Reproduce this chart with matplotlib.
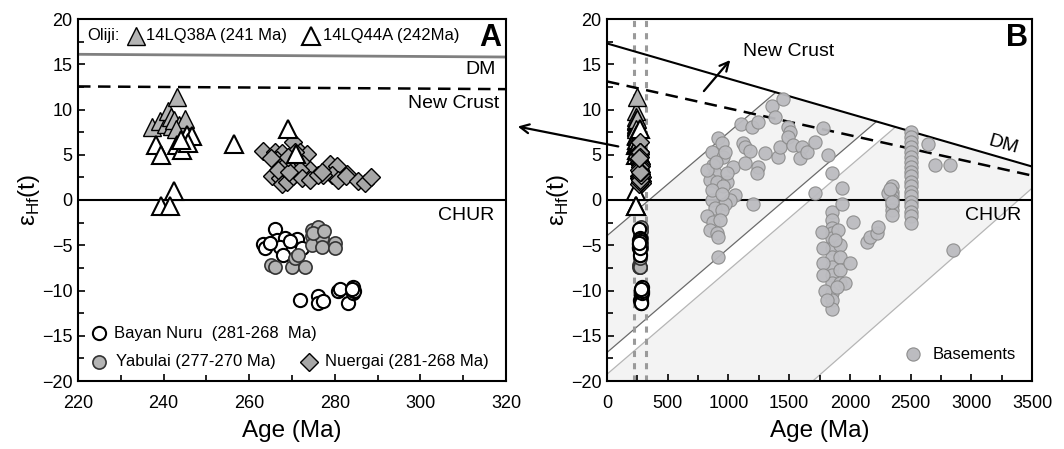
import matplotlib
matplotlib.use("Agg")
import matplotlib.pyplot as plt
import numpy as np
from matplotlib.ticker import MultipleLocator

plt.rcParams['font.family'] = ['Liberation Sans', 'DejaVu Sans']
plt.rcParams['mathtext.fontset'] = 'custom'
plt.rcParams['mathtext.rm'] = 'Liberation Sans'

# ---------------- Data (Panel A samples) ----------------
tri_gray_age = [237.3, 239.2, 240.5, 241.1, 241.8, 242.0, 242.5, 243.2, 243.5, 244.2, 245.0, 242.8]
tri_gray_ehf = [8.1, 8.7, 8.4, 9.8, 9.2, 8.2, 8.8, 11.4, 8.3, 8.1, 8.9, 7.9]

tri_white_age = [238.2, 239.4, 242.5, 239.4, 241.6, 243.1, 244.4, 245.4, 246.6, 245.8, 244.0, 256.4, 269.1, 270.9]
tri_white_ehf = [6.1, 5.0, 0.95, -0.7, -0.7, 6.1, 5.5, 7.2, 7.1, 6.3, 6.6, 6.2, 7.9, 5.1]

dia_age = [263.3, 266.0, 267.6, 270.3, 271.9, 273.4, 266.4, 268.4, 270.3, 272.6, 274.2,
           278.9, 280.4, 282.8, 279.3, 277.3, 280.8, 282.5, 285.5, 287.1, 288.4, 265.3,
           267.2, 267.6, 268.8, 270.3, 271.9, 272.3, 274.2, 276.1, 276.9, 268.0, 266.8,
           269.4, 270.7, 269.0, 265.0]
dia_ehf = [5.4, 5.3, 5.2, 6.4, 5.3, 5.1, 4.4, 4.2, 3.9, 4.0, 3.3,
           4.0, 3.8, 2.9, 2.8, 2.8, 2.2, 2.6, 2.1, 1.9, 2.5, 2.6,
           2.4, 1.8, 2.0, 2.6, 3.3, 2.4, 2.2, 2.8, 3.1, 3.7, 3.3,
           3.1, 5.3, 4.8, 4.6]

bn_age = [266.0, 263.3, 263.6, 266.4, 268.4, 267.2, 268.0, 271.1, 272.3, 269.5, 264.9,
          271.9, 276.1, 276.1, 277.3, 280.8, 281.2, 283.1, 284.3, 284.3, 284.6, 284.0]
bn_ehf = [-3.2, -4.9, -5.3, -4.4, -4.2, -5.2, -6.1, -4.3, -5.3, -4.5, -4.7,
          -11.05, -10.6, -11.4, -11.2, -10.1, -9.8, -11.35, -9.6, -10.3, -10.0, -9.8]

yb_age = [265.2, 266.0, 269.9, 273.0, 270.7, 271.3, 274.6, 276.1, 274.6, 274.6, 276.9,
          276.9, 280.0, 280.0, 275.0, 277.5]
yb_ehf = [-7.2, -7.4, -7.4, -7.4, -6.45, -6.1, -3.3, -2.95, -4.0, -5.0, -4.2,
          -5.2, -4.7, -5.3, -3.6, -3.4]

# ---------------- Data (Panel B basements) ----------------
base_age = [862, 917, 944, 958, 870, 889, 848, 903, 985, 958, 1040, 1054, 1013, 972, 862,
            889, 944, 821, 876, 930, 848, 903, 917, 917, 862, 944, 972, 985, 821, 900,
            1101, 1191, 1246, 1123, 1134, 1178, 1134, 1301, 1246, 1233, 1205, 1356, 1383,
            1452, 1411, 1424, 1493, 1507, 1493, 1534, 1603, 1590, 1644, 1713, 1713, 1781,
            1817, 1850, 1932,
            1850, 1850, 1850, 1850, 1850, 1850, 1850, 1850, 1850, 1850, 1850, 1850, 1850,
            1768, 1781, 1781, 1781, 1795, 1809, 1905, 1919, 1919, 1919, 1919, 1960, 1932,
            2001, 1891, 1878,
            2029, 2138, 2166, 2220, 2234,
            2344, 2344, 2344, 2344, 2344, 2344, 2344, 2316, 2330, 2350,
            2505, 2505, 2505, 2505, 2505, 2505, 2505, 2505, 2505, 2505, 2505, 2505, 2505,
            2505, 2505, 2505, 2505, 2505, 2505,
            2646, 2701, 2825, 2847]
base_ehf = [5.3, 6.8, 6.3, 4.8, 3.9, 2.95, 2.2, 2.0, 2.0, 1.5, 3.7, 0.55, 0.0, -0.4, 0.0,
            -0.9, -1.1, -1.8, -2.4, -2.2, -3.3, -3.7, -4.1, -6.3, 1.1, 0.7, 5.3, 2.95, 3.3, 4.2,
            8.4, 8.1, 8.65, 6.3, 5.9, 5.45, 4.05, 5.2, 3.7, 2.95, -0.4, 10.4, 9.2,
            11.2, 4.8, 5.9, 8.1, 7.55, 7.0, 6.1, 5.9, 4.6, 5.3, 6.4, 0.74, 8.0,
            4.97, 2.95, 1.3,
            -1.3, -2.2, -3.1, -3.7, -4.2, -5.3, -6.3, -7.4, -8.3, -9.2, -10.3, -11.05, -12.0,
            -3.5, -5.3, -7.0, -8.3, -10.1, -11.05, -3.3, -4.97, -6.26, -7.7, -9.2, -9.2, -0.4,
            -7.0, -9.6, -4.4,
            -2.4, -4.6, -4.05, -3.7, -2.95,
            1.5, 0.9, 0.4, 0.0, -0.55, -1.1, -1.7, 0.74, 1.2, -0.2,
            7.5, 7.0, 6.4, 5.9, 5.3, 4.8, 4.2, 3.7, 3.1, 2.6, 2.0, 1.5, 0.9, 0.4, -0.2,
            -0.7, -1.3, -1.8, -2.5,
            6.2, 3.87, 3.87, -5.5]

# Reference evolution lines (endpoints)
dm_x = [0, 3500]
dm_y = [17.3, 3.7]
nc_x = [0, 3500]
nc_y = [13.1, 2.7]
dmA_x = [220, 320]
dmA_y = [16.1, 15.8]
ncA_x = [220, 320]
ncA_y = [12.55, 12.25]
l1_int, l1_slope = -3.95, 0.0114
l2_int, l2_slope = -16.85, 0.0115
l3_int, l3_slope = -19.25, 0.0115
l4_int, l4_slope = -40.0, 0.0118

W, H = 1064, 449
fig = plt.figure(figsize=(W / 100, H / 100), dpi=100)
axA = fig.add_axes([78 / W, 1 - 381 / H, (506 - 78) / W, (381 - 19) / H])
axB = fig.add_axes([607 / W, 1 - 381 / H, (1032 - 607) / W, (381 - 19) / H])

gray_face = '#b4b4b4'
circ_ms = 9.5
tri_ms = 13.0
dia_ms = 9.0
base_ms = 9.5
lab_fs = 17.5
tick_fs = 13
txt_fs = 14
leg_fs = 12


def style_axis(ax, xlim, xmaj, xmin):
    ax.set_xlim(*xlim)
    ax.set_ylim(-20, 20)
    ax.xaxis.set_major_locator(MultipleLocator(xmaj))
    ax.xaxis.set_minor_locator(MultipleLocator(xmin))
    ax.yaxis.set_major_locator(MultipleLocator(5))
    ax.yaxis.set_minor_locator(MultipleLocator(2.5))
    ax.tick_params(which='both', direction='in', top=False, right=False, labelsize=tick_fs, width=1.2)
    ax.tick_params(which='major', length=5)
    ax.tick_params(which='minor', length=4)
    ax.tick_params(axis='x', pad=10)
    ax.tick_params(axis='y', pad=4)
    for s in ax.spines.values():
        s.set_linewidth(1.5)
    ax.set_xlabel('Age (Ma)', fontsize=lab_fs, labelpad=6)
    ax.set_ylabel(r'ε$_{\mathrm{Hf}}$(t)', fontsize=lab_fs, labelpad=0)


# ---------------- Panel A ----------------
style_axis(axA, (220, 320), 20, 10)
axA.plot(dmA_x, dmA_y, color='#808080', lw=2.0, zorder=2)
axA.plot(ncA_x, ncA_y, color='black', lw=1.8, ls=(0, (5, 3)), zorder=2)
axA.axhline(0, color='black', lw=1.5, zorder=2)

axA.plot(bn_age, bn_ehf, 'o', ms=circ_ms, mfc='white', mec='black', mew=1.5, ls='none', zorder=3)
axA.plot(yb_age, yb_ehf, 'o', ms=circ_ms, mfc=gray_face, mec='#333333', mew=1.2, ls='none', zorder=3)
axA.plot(dia_age, dia_ehf, 'D', ms=dia_ms, mfc='#a6a6a6', mec='black', mew=1.0, ls='none', zorder=3)
axA.plot(tri_gray_age, tri_gray_ehf, '^', ms=tri_ms, mfc=gray_face, mec='black', mew=1.0, ls='none', zorder=4)
axA.plot(tri_white_age, tri_white_ehf, '^', ms=tri_ms, mfc='white', mec='black', mew=1.5, ls='none', zorder=4)

axA.text(318.8, 17.9, 'A', fontsize=22, fontweight='bold', ha='right', va='center')
axA.text(317.7, 14.4, 'DM', fontsize=txt_fs, ha='right', va='center')
axA.text(318.4, 10.7, 'New Crust', fontsize=txt_fs, ha='right', va='center')
axA.text(317.2, -1.75, 'CHUR', fontsize=txt_fs, ha='right', va='center')

# header legend
axA.text(0.022, 0.955, 'Oliji:', transform=axA.transAxes, fontsize=leg_fs, ha='left', va='center')
axA.plot([0.135], [0.953], '^', ms=tri_ms, mfc=gray_face, mec='black', mew=1.0, transform=axA.transAxes, clip_on=False)
axA.text(0.159, 0.955, '14LQ38A (241 Ma)', transform=axA.transAxes, fontsize=leg_fs, ha='left', va='center')
axA.plot([0.545], [0.953], '^', ms=tri_ms, mfc='white', mec='black', mew=1.5, transform=axA.transAxes, clip_on=False)
axA.text(0.572, 0.955, '14LQ44A (242Ma)', transform=axA.transAxes, fontsize=leg_fs, ha='left', va='center')

# bottom legend
axA.plot([0.049], [0.132], 'o', ms=circ_ms, mfc='white', mec='black', mew=1.5, transform=axA.transAxes)
axA.text(0.085, 0.132, 'Bayan Nuru  (281-268  Ma)', transform=axA.transAxes, fontsize=leg_fs, ha='left', va='center')
axA.plot([0.049], [0.053], 'o', ms=circ_ms, mfc=gray_face, mec='#333333', mew=1.2, transform=axA.transAxes)
axA.text(0.089, 0.053, 'Yabulai (277-270 Ma)', transform=axA.transAxes, fontsize=leg_fs, ha='left', va='center')
axA.plot([0.54], [0.053], 'D', ms=dia_ms, mfc='#a6a6a6', mec='black', mew=1.0, transform=axA.transAxes)
axA.text(0.576, 0.053, 'Nuergai (281-268 Ma)', transform=axA.transAxes, fontsize=leg_fs, ha='left', va='center')

# ---------------- Panel B ----------------
style_axis(axB, (0, 3500), 500, 250)


def dm_at(x):
    return dm_y[0] + (dm_y[1] - dm_y[0]) * x / 3500.0


def cross_dm(a, b):
    s = (dm_y[1] - dm_y[0]) / 3500.0
    return (dm_y[0] - a) / (b - s)


x1e = cross_dm(l1_int, l1_slope)
x2e = cross_dm(l2_int, l2_slope)
x3e = cross_dm(l3_int, l3_slope)
x4s = (-20 - l4_int) / l4_slope
fill_c = '#f3f3f3'

# band between line1 and line2 (below DM)
xs1 = np.array([0, x1e])
xsd = np.array([x1e, x2e])
xs2 = np.array([x2e, 0])
poly1_x = np.concatenate([xs1, xsd, xs2])
poly1_y = np.concatenate([l1_int + l1_slope * xs1, dm_at(xsd), l2_int + l2_slope * xs2])
axB.fill(poly1_x, poly1_y, color=fill_c, lw=0, zorder=0)
# band between line3 and line4 (below DM)
xs3 = np.array([0, x3e])
xsd2 = np.array([x3e, 3500])
xs4 = np.array([3500, x4s])
poly2_x = np.concatenate([xs3, xsd2, xs4, [0]])
poly2_y = np.concatenate([l3_int + l3_slope * xs3, dm_at(xsd2), l4_int + l4_slope * xs4, [-20]])
axB.fill(poly2_x, poly2_y, color=fill_c, lw=0, zorder=0)

axB.plot([0, x1e], [l1_int, l1_int + l1_slope * x1e], color='#6a6a6a', lw=0.9, zorder=1)
axB.plot([0, x2e], [l2_int, l2_int + l2_slope * x2e], color='#6a6a6a', lw=0.9, zorder=1)
axB.plot([0, x3e], [l3_int, l3_int + l3_slope * x3e], color='#b5b5b5', lw=0.9, zorder=1)
axB.plot([x4s, 3500], [-20, l4_int + l4_slope * 3500], color='#b5b5b5', lw=0.9, zorder=1)

axB.plot(dm_x, dm_y, color='black', lw=1.5, zorder=2)
axB.plot(nc_x, nc_y, color='black', lw=1.8, ls=(0, (5, 3)), zorder=2)
axB.axhline(0, color='black', lw=1.5, zorder=2)
axB.axvline(220, color='#9a9a9a', lw=2.2, ls=(0, (2, 2)), zorder=1)
axB.axvline(320, color='#9a9a9a', lw=2.2, ls=(0, (2, 2)), zorder=1)

axB.plot(base_age, base_ehf, 'o', ms=base_ms, mfc='#bcbcc0', mec='#8c8c8c', mew=0.8, ls='none', alpha=0.95, zorder=3)

axB.plot(yb_age, yb_ehf, 'o', ms=circ_ms, mfc=gray_face, mec='#333333', mew=1.2, ls='none', zorder=4)
axB.plot(bn_age, bn_ehf, 'o', ms=circ_ms, mfc='white', mec='black', mew=1.5, ls='none', zorder=4)
axB.plot(tri_gray_age, tri_gray_ehf, '^', ms=tri_ms, mfc=gray_face, mec='black', mew=1.0, ls='none', zorder=4)
axB.plot(tri_white_age, tri_white_ehf, '^', ms=tri_ms, mfc='white', mec='black', mew=1.5, ls='none', zorder=4)
axB.plot(dia_age, dia_ehf, 'D', ms=dia_ms, mfc='#a6a6a6', mec='black', mew=1.0, ls='none', zorder=4)

axB.text(3470, 17.9, 'B', fontsize=22, fontweight='bold', ha='right', va='center')
axB.text(1120, 16.4, 'New Crust', fontsize=txt_fs, ha='left', va='center')
axB.annotate('', xy=(1030, 15.7), xytext=(783, 11.8),
             arrowprops=dict(arrowstyle='->', lw=1.6, color='black', mutation_scale=16))
axB.text(3262, 6.1, 'DM', fontsize=txt_fs, ha='center', va='center', rotation=-16)
axB.text(3414, -1.75, 'CHUR', fontsize=txt_fs, ha='right', va='center')
axB.plot([0.72], [0.074], 'o', ms=base_ms, mfc='#bcbcc0', mec='#8c8c8c', mew=0.8, transform=axB.transAxes)
axB.text(0.767, 0.074, 'Basements', transform=axB.transAxes, fontsize=leg_fs, ha='left', va='center')

# connecting arrow between panels
fig.patches.append(matplotlib.patches.FancyArrowPatch(
    (621 / W, 1 - 147 / H), (515 / W, 1 - 126 / H), transform=fig.transFigure,
    arrowstyle='->', lw=1.6, color='black', mutation_scale=16))

fig.savefig('out.png', dpi=100)
